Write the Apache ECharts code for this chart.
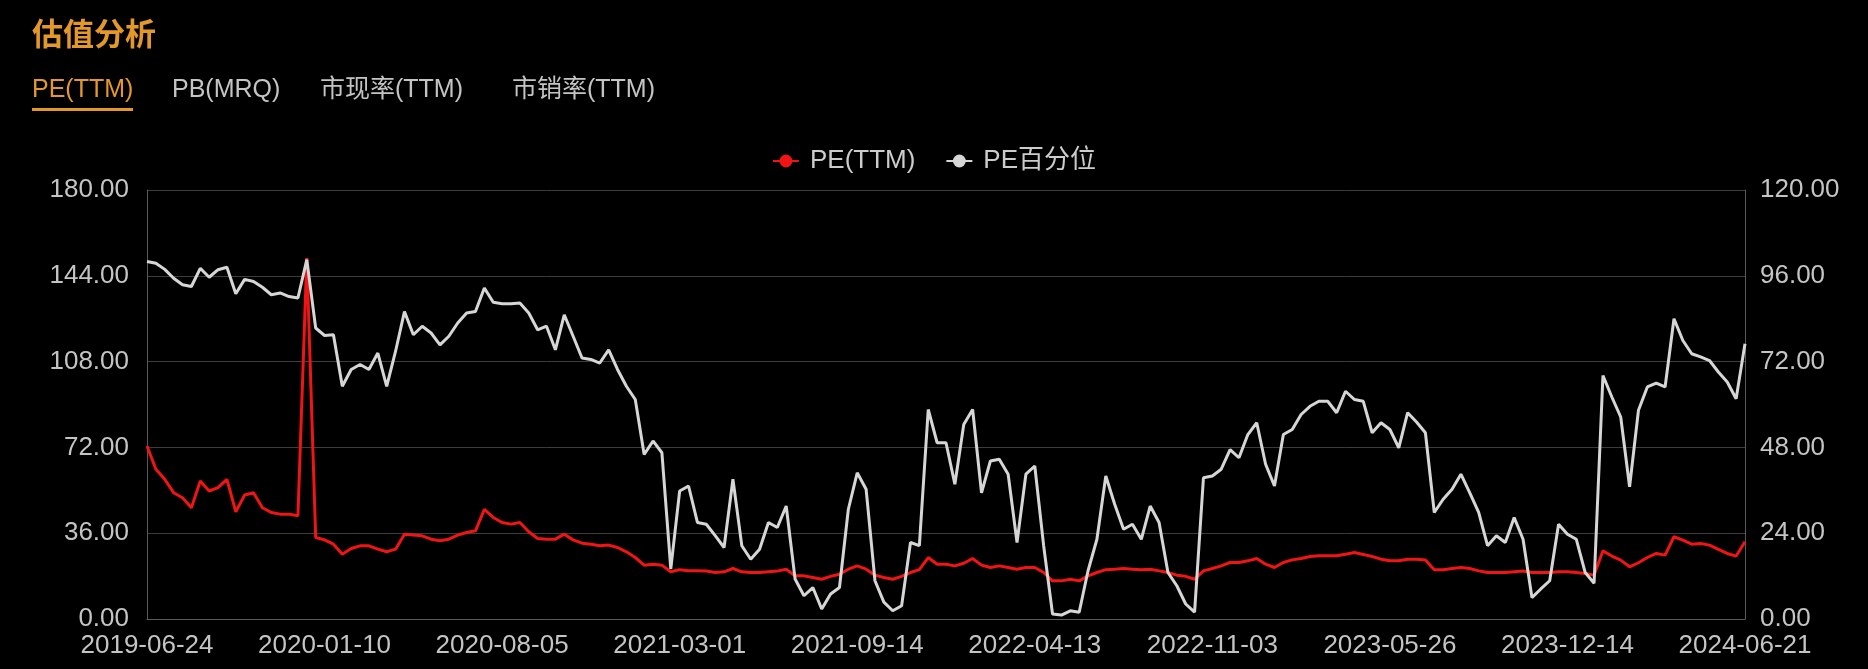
<!DOCTYPE html>
<html>
<head>
<meta charset="utf-8">
<script src="https://cdn.jsdelivr.net/npm/echarts@6/dist/echarts.min.js"></script>
<style>
html,body{margin:0;padding:0;background:#000;}
#chart{width:1868px;height:669px;}
</style>
</head>
<body>
<div id="chart"></div>
<script>
// x-axis tick labels (shown every STEP samples)
const tickDates = ['2019-06-24','2020-01-10','2020-08-05','2021-03-01','2021-09-14','2022-04-13','2022-11-03','2023-05-26','2023-12-14','2024-06-21'];
const STEP = 20;

// PE(TTM) — left axis
const peTTM = [
72.6,62.8,58.6,53.0,50.9,46.7,57.9,53.7,55.1,58.6,
45.0,52.0,53.0,46.7,44.7,44.0,44.0,43.3,151.4,34.2,
33.2,31.4,27.2,29.6,30.7,30.7,29.3,28.2,29.3,35.6,
35.2,34.9,33.5,32.8,33.5,35.2,36.3,37.0,46.0,42.6,
40.5,39.8,40.5,36.6,33.8,33.5,33.5,35.6,33.2,31.8,
31.4,30.7,31.0,30.0,28.2,25.8,22.6,23.0,22.6,19.8,
20.7,20.2,20.2,20.1,19.5,19.8,21.2,19.8,19.5,19.5,
19.8,20.1,20.9,18.1,18.1,17.4,16.7,17.9,18.8,20.9,
22.3,20.9,18.4,17.4,16.7,17.9,19.5,20.7,25.8,23.0,
23.0,22.3,23.4,25.4,22.6,21.6,22.3,21.6,20.9,21.6,
21.6,19.5,16.0,16.0,16.7,16.0,18.1,19.5,20.7,20.9,
21.2,20.9,20.7,20.9,20.2,19.5,18.4,17.9,16.7,20.2,
21.2,22.3,23.7,23.7,24.4,25.4,23.0,21.6,23.7,24.8,
25.4,26.2,26.5,26.5,26.5,27.2,27.9,27.1,26.2,25.1,
24.4,24.4,25.1,25.1,24.8,20.7,20.7,21.2,21.6,21.2,
20.2,19.5,19.5,19.5,19.8,20.1,19.5,19.5,19.5,19.8,
19.8,19.5,19.1,18.4,28.6,26.4,24.7,21.9,23.6,25.8,
27.5,26.8,34.5,33.1,31.4,31.7,31.0,29.2,27.5,26.4,
32.4
];

// PE百分位 — right axis
const pePct = [
100.0,99.5,97.8,95.3,93.5,93.0,98.1,95.6,97.7,98.4,
91.0,95.0,94.4,92.8,90.7,91.2,90.2,89.8,100.5,81.4,
79.3,79.5,65.1,69.8,71.2,69.8,74.4,65.1,74.9,86.0,
79.5,81.9,80.0,76.7,79.1,82.8,85.6,86.0,92.6,88.6,
88.2,88.2,88.4,85.6,80.9,81.9,75.3,85.1,79.1,73.0,
72.6,71.6,75.3,69.8,65.1,61.4,46.0,49.8,46.5,14.0,
35.8,37.2,27.0,26.5,23.3,20.0,39.1,20.5,16.7,19.5,
27.0,25.6,31.6,11.2,6.5,8.8,2.8,7.0,8.8,30.7,
40.9,36.3,10.7,4.7,2.3,3.7,21.4,20.5,58.6,49.3,
49.3,37.7,54.4,58.6,35.3,44.2,44.7,40.5,21.4,40.5,
42.8,20.5,1.4,1.1,2.3,1.9,13.5,22.3,40.0,32.1,
25.1,26.5,22.3,31.6,27.0,13.0,9.3,4.2,1.9,39.5,
40.0,41.9,47.4,45.1,51.6,54.9,43.3,37.2,51.6,53.0,
57.2,59.5,60.9,60.9,57.7,63.7,61.4,60.9,52.1,54.9,
53.0,47.9,57.7,55.1,52.1,29.8,33.5,36.3,40.5,35.3,
29.8,20.5,23.3,21.4,28.4,22.3,6.0,8.4,10.7,26.5,
23.7,22.3,13.0,10.0,68.1,62.1,56.5,37.0,58.4,64.9,
66.0,64.9,84.0,77.9,74.2,73.3,72.3,69.1,66.3,61.6,
77.0
];

const seriesNames = ['PE(TTM)', 'PE百分位'];
const tabLabels = ['PE(TTM)', 'PB(MRQ)', '市现率(TTM)', '市销率(TTM)'];
const titleText = '估值分析';

// build the category dates between the labelled ticks
const dates = [];
for (let t = 0; t < tickDates.length - 1; t++) {
  const a = Date.parse(tickDates[t]), b = Date.parse(tickDates[t + 1]);
  for (let j = 0; j < STEP; j++) {
    dates.push(j === 0 ? tickDates[t] : new Date(a + (b - a) * j / STEP).toISOString().slice(0, 10));
  }
}
dates.push(tickDates[tickDates.length - 1]);

const FONT = "'Liberation Sans', 'Noto Sans CJK SC', sans-serif";
const tabX = [32, 172, 320, 512];

const chart = echarts.init(document.getElementById('chart'), null, {renderer: 'canvas'});
chart.setOption({
  backgroundColor: '#000',
  animation: false,
  textStyle: {fontFamily: FONT},
  graphic: [
    {type: 'text', left: 32, top: 18, style: {text: titleText, fill: '#e3982a', font: "bold 31px 'Noto Sans CJK SC', sans-serif"}},
    ...tabLabels.map((t, i) => ({
      type: 'text', left: tabX[i], top: 78,
      style: {text: t, fill: i === 0 ? '#e3982a' : '#c4c4c4', font: "25px " + FONT}
    })),
    {type: 'rect', left: 32, top: 108, shape: {width: 101, height: 3}, style: {fill: '#e3982a'}}
  ],
  legend: {
    data: seriesNames,
    top: 143,
    left: 'center',
    itemWidth: 26,
    itemHeight: 16,
    itemGap: 30,
    textStyle: {color: '#cccccc', fontSize: 26, fontFamily: FONT, padding: [0, 0, 0, 6]}
  },
  grid: {left: 147, right: 123, top: 190, bottom: 50},
  xAxis: {
    type: 'category',
    data: dates,
    boundaryGap: false,
    axisLine: {lineStyle: {color: '#5a5a5a', width: 1}},
    axisTick: {show: false},
    axisLabel: {interval: STEP - 1, color: '#c4c4c4', fontSize: 26, margin: 14, fontFamily: FONT},
    splitLine: {show: false}
  },
  yAxis: [
    {
      type: 'value', min: 0, max: 180, interval: 36, position: 'left',
      axisLine: {show: true, lineStyle: {color: '#5a5a5a'}},
      axisTick: {show: false},
      axisLabel: {color: '#c4c4c4', fontSize: 26, margin: 18, fontFamily: FONT, formatter: v => v.toFixed(2)},
      splitLine: {lineStyle: {color: '#3c3c3c', width: 1}}
    },
    {
      type: 'value', min: 0, max: 120, interval: 24, position: 'right',
      axisLine: {show: true, lineStyle: {color: '#5a5a5a'}},
      axisTick: {show: false},
      axisLabel: {color: '#c4c4c4', fontSize: 26, margin: 15, fontFamily: FONT, formatter: v => v.toFixed(2)},
      splitLine: {show: false}
    }
  ],
  series: [
    {
      name: seriesNames[0], type: 'line', yAxisIndex: 0, data: peTTM,
      symbol: 'circle', showSymbol: false, symbolSize: 12,
      itemStyle: {color: '#f01414'},
      lineStyle: {color: '#f01414', width: 3}
    },
    {
      name: seriesNames[1], type: 'line', yAxisIndex: 1, data: pePct,
      symbol: 'circle', showSymbol: false, symbolSize: 12,
      itemStyle: {color: '#d6d6d6'},
      lineStyle: {color: '#d6d6d6', width: 3}
    }
  ]
});
</script>
</body>
</html>
